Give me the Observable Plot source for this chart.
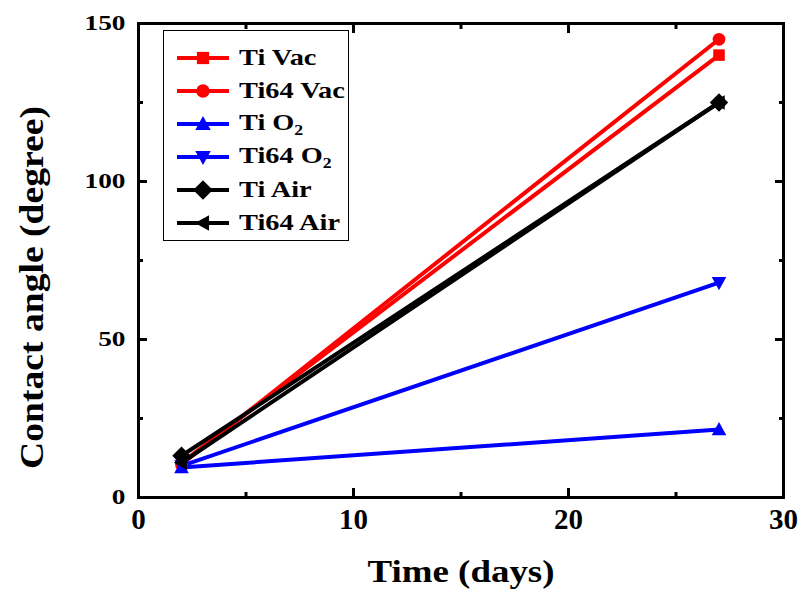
<!DOCTYPE html>
<html>
<head>
<meta charset="utf-8">
<script src="https://cdn.jsdelivr.net/npm/d3@7"></script>
<script src="https://cdn.jsdelivr.net/npm/@observablehq/plot@0.6"></script>
<style>
  body { margin: 0; background: #fff; }
  #wrap { position: relative; width: 800px; height: 597px; font-family: "Liberation Serif", "Times New Roman", serif; }
  #legend { position: absolute; left: 163px; top: 30px; width: 186px; height: 211px; border: 1.5px solid #000; background: #fff; box-sizing: border-box; padding-top: 10px; }
  .row { display: flex; align-items: center; height: 33px; }
  .row svg { margin-left: 13px; margin-right: 10px; flex: none; }
  .row span { font-weight: bold; font-size: 24px; display: inline-block; transform: scaleX(1.18); transform-origin: left center; white-space: nowrap; }
  sub { font-size: 15px; vertical-align: -5px; }
</style>
</head>
<body>
<div id="wrap"></div>
<script>
const days = [2, 27];
const seriesNames = ["Ti Vac", "Ti64 Vac", "Ti O2", "Ti64 O2", "Ti Air", "Ti64 Air"];
const tiVac = [11, 140];
const ti64Vac = [10.5, 145];
const tiO2 = [9.5, 21.5];
const ti64O2 = [10, 68];
const tiAir = [13.2, 125];
const ti64Air = [11, 125];
const seriesColors = ["#ff0000", "#ff0000", "#0000ff", "#0000ff", "#000000", "#000000"];
const xMajor = [0, 10, 20, 30];
const xMinor = [5, 15, 25];
const yMajor = [0, 50, 100, 150];
const yMinor = [25, 75, 125];
const xTitle = ["Time (days)"];
const yTitle = ["Contact angle (degree)"];

const triDown = { draw(ctx, size) { const s = Math.sqrt(size) * 1.1; ctx.moveTo(-s/2*1.15, -s*0.45); ctx.lineTo(s/2*1.15, -s*0.45); ctx.lineTo(0, s*0.6); ctx.closePath(); } };
const triUp = { draw(ctx, size) { const s = Math.sqrt(size) * 1.1; ctx.moveTo(-s/2*1.15, s*0.45); ctx.lineTo(s/2*1.15, s*0.45); ctx.lineTo(0, -s*0.6); ctx.closePath(); } };
const triLeft = { draw(ctx, size) { const s = Math.sqrt(size) * 1.1; ctx.moveTo(s*0.45, -s/2*1.15); ctx.lineTo(s*0.45, s/2*1.15); ctx.lineTo(-s*0.6, 0); ctx.closePath(); } };
const diamond = { draw(ctx, size) { const s = Math.sqrt(size) * 0.8; ctx.moveTo(0, -s); ctx.lineTo(s, 0); ctx.lineTo(0, s); ctx.lineTo(-s, 0); ctx.closePath(); } };
const square = { draw(ctx, size) { const s = Math.sqrt(size) * 0.5; ctx.rect(-s, -s, 2*s, 2*s); } };
const circle = { draw(ctx, size) { const r = Math.sqrt(size) * 0.55; ctx.moveTo(r, 0); ctx.arc(0, 0, r, 0, 2*Math.PI); } };
const symbols = [square, circle, triUp, triDown, diamond, triLeft];

const allValues = [tiVac, ti64Vac, tiO2, ti64O2, tiAir, ti64Air];
const data = [];
allValues.forEach((vals, i) => vals.forEach((v, j) => data.push({series: seriesNames[i], idx: i, day: days[j], angle: v})));

const chart = Plot.plot({
  width: 800, height: 597,
  marginLeft: 138, marginRight: 17, marginTop: 23, marginBottom: 100,
  style: { fontFamily: "Liberation Serif, serif", background: "#fff", overflow: "visible" },
  x: { domain: [0, 30] },
  y: { domain: [0, 150] },
  marks: [
    Plot.lineY(data, { x: "day", y: "angle", z: "series", stroke: d => seriesColors[d.idx], strokeWidth: 4 }),
    ...seriesNames.map((name, i) => Plot.dot(data.filter(d => d.idx === i), { x: "day", y: "angle", symbol: symbols[i], fill: seriesColors[i], stroke: "none", r: 6.5 })),
    Plot.frame({ stroke: "#000", strokeWidth: 3 }),
    Plot.axisX(xMajor, { anchor: "bottom", tickSize: -9, tickPadding: 20, strokeWidth: 3, fontSize: 29, fontWeight: "bold", label: null, fill: "#000" }),
    Plot.axisX(xMinor, { anchor: "bottom", tickSize: -5, strokeWidth: 3, text: null, label: null }),
    Plot.axisX(xMajor, { anchor: "top", tickSize: -9, strokeWidth: 3, text: null, label: null }),
    Plot.axisX(xMinor, { anchor: "top", tickSize: -5, strokeWidth: 3, text: null, label: null }),
    Plot.axisY(yMajor, { anchor: "left", tickSize: -9, tickPadding: 22, strokeWidth: 3, fontSize: 21, fontWeight: "bold", label: null, fill: "#000" }),
    Plot.axisY(yMinor, { anchor: "left", tickSize: -5, strokeWidth: 3, text: null, label: null }),
    Plot.axisY(yMajor, { anchor: "right", tickSize: -9, strokeWidth: 3, text: null, label: null }),
    Plot.axisY(yMinor, { anchor: "right", tickSize: -5, strokeWidth: 3, text: null, label: null }),
    Plot.text(xTitle, { frameAnchor: "bottom", dy: 74, text: d => d, fontSize: 32, fontWeight: "bold", fill: "#000", textAnchor: "middle", lineAnchor: "middle" }),
    Plot.text(yTitle, { frameAnchor: "left", dx: -106, dy: 27, rotate: -90, text: d => d, fontSize: 34, fontWeight: "bold", fill: "#000", textAnchor: "middle", lineAnchor: "middle" })
  ]
});
const wrap = document.getElementById("wrap");
wrap.appendChild(chart);

function scaleTextX(el, s) {
  const x = +el.getAttribute("x") || 0;
  const y = +el.getAttribute("y") || 0;
  const t = el.getAttribute("transform") || "";
  el.setAttribute("transform", `${t} translate(${x},${y}) scale(${s},1) translate(${-x},${-y})`);
}
d3.select(chart).selectAll("text").each(function() {
  const txt = this.textContent;
  if (txt === xTitle[0]) { this.setAttribute("textLength", 187); this.setAttribute("lengthAdjust", "spacingAndGlyphs"); }
  else if (txt === yTitle[0]) { this.setAttribute("textLength", 363); this.setAttribute("lengthAdjust", "spacingAndGlyphs"); }
});
d3.select(chart).selectAll('g[aria-label="y-axis tick label"] text').each(function() { scaleTextX(this, 1.3); });

const legend = document.createElement("div");
legend.id = "legend";
wrap.appendChild(legend);
const labelsHtml = ["Ti Vac", "Ti64 Vac", "Ti O<sub>2</sub>", "Ti64 O<sub>2</sub>", "Ti Air", "Ti64 Air"];
seriesNames.forEach((name, i) => {
  const row = document.createElement("div");
  row.className = "row";
  const svg = d3.create("svg").attr("width", 52).attr("height", 20);
  svg.append("line").attr("x1", 0).attr("x2", 52).attr("y1", 10).attr("y2", 10).attr("stroke", seriesColors[i]).attr("stroke-width", 4);
  const p = d3.path(); symbols[i].draw(p, 150);
  svg.append("path").attr("d", p.toString()).attr("transform", "translate(26,10)").attr("fill", seriesColors[i]);
  row.appendChild(svg.node());
  const span = document.createElement("span");
  span.innerHTML = labelsHtml[i];
  row.appendChild(span);
  legend.appendChild(row);
});
</script>
</body>
</html>
